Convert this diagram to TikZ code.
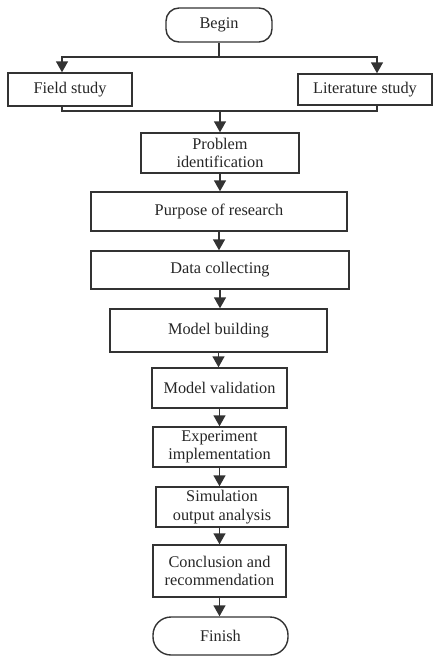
\documentclass[tikz,border=0pt]{standalone}
\usepackage{fontspec}
\setmainfont{Liberation Serif}
\usetikzlibrary{arrows.meta}
\begin{document}
\begin{tikzpicture}[x=1pt,y=-1pt,
  every node/.style={font=\fontsize{16.3}{18.5}\selectfont, text=black!85, align=center, inner sep=0pt},
  box/.style={draw=black!80, line width=1.4pt, rectangle},
  term/.style={draw=black!80, line width=1.4pt, rectangle, rounded corners=16pt},
  line/.style={draw=black!80, line width=1.4pt},
  arr/.style={line, -{Triangle[width=12pt,length=11pt]}}]
\useasboundingbox (0,0) rectangle (433,656);
\node[term, rounded corners=13pt, minimum width=106pt, minimum height=34pt] (begin) at (219,25) {Begin};
\node[box, minimum width=124pt, minimum height=33pt] (field) at (70,89.5) {Field study};
\node[box, minimum width=134pt, minimum height=31pt] (lit) at (365,89.5) {Literature study};
\node[box, minimum width=158pt, minimum height=40pt] (prob) at (220,153) {Problem\\identification};
\node[box, minimum width=256pt, minimum height=39pt] (purp) at (219,211.5) {Purpose of research};
\node[box, minimum width=258pt, minimum height=38pt] (data) at (220,270) {Data collecting};
\node[box, minimum width=217pt, minimum height=43pt] (build) at (218.5,330.5) {Model building};
\node[box, minimum width=135pt, minimum height=40pt] (valid) at (219.5,388) {Model validation};
\node[box, minimum width=133pt, minimum height=40pt] (exper) at (219.5,447) {Experiment\\implementation};
\node[box, minimum width=132pt, minimum height=40pt] (simu) at (222,507) {Simulation\\output analysis};
\node[box, minimum width=133pt, minimum height=52pt] (concl) at (219.5,571) {Conclusion and\\recommendation};
\node[term, rounded corners=18pt, minimum width=135pt, minimum height=38pt] (finish) at (220.5,636) {Finish};
\coordinate (j1) at (219,57);
\coordinate (j2) at (220,111);
\coordinate (lx) at (62,0);
\coordinate (rx) at (377,0);
\draw[line] (begin.south) -- (j1);
\draw[arr] (j1) -| (lx |- field.north);
\draw[arr] (j1) -| (rx |- lit.north);
\draw[line] (lx |- field.south) |- (j2) -| (rx |- lit.south);
\draw[arr] (j2) -- (prob.north);
\draw[arr] (prob.south) -- (prob.south |- purp.north);
\draw[arr] (purp.south) -- (purp.south |- data.north);
\draw[arr] (data.south) -- (data.south |- build.north);
\draw[arr] (build.south) -- (build.south |- valid.north);
\draw[arr] (valid.south) -- (valid.south |- exper.north);
\draw[arr] (exper.south) -- (exper.south |- simu.north);
\draw[arr] (simu.south -| exper.south) -- (exper.south |- concl.north);
\draw[arr] (concl.south) -- (concl.south |- finish.north);
\end{tikzpicture}
\end{document}
